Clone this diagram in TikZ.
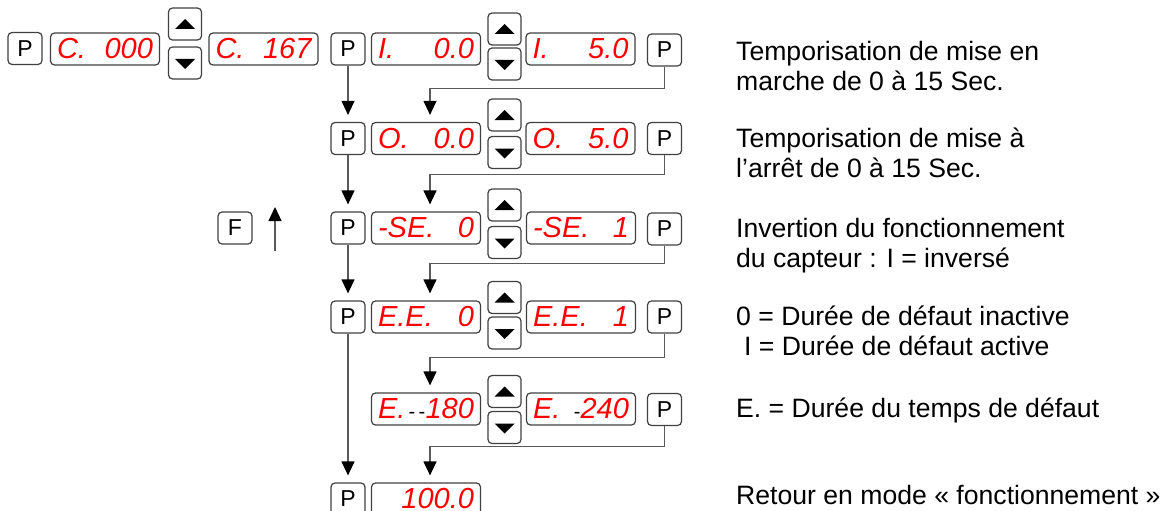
\documentclass[tikz,border=0pt]{standalone}
\usepackage{fontspec}
\setmainfont{Liberation Sans}
\usetikzlibrary{arrows.meta}
\definecolor{frame_gray}{RGB}{64,64,64}
\definecolor{wire_gray}{RGB}{90,90,90}
\definecolor{led_red}{RGB}{255,0,0}
% one line of the display: left part, gap, right part
\newcommand{\led}[2]{\hbox to 96pt{#1\hfill #2}}
% small black dashes in the E. display
\newcommand{\blk}[1]{\textcolor{black}{\fontsize{20}{20}\selectfont\upshape #1}}

\begin{document}
\begin{tikzpicture}[x=1pt,y=-1pt,>={Triangle[width=13pt,length=14pt,black]}]
    \tikzstyle{key}=[draw=frame_gray, line width=1.2pt, rounded corners=4pt, minimum width=34pt, minimum height=32pt, inner sep=0pt, font=\fontsize{23}{23}\selectfont]
    \tikzstyle{disp}=[draw=frame_gray, line width=1.2pt, rounded corners=4pt, minimum width=109pt, minimum height=32pt, inner xsep=6pt, inner ysep=0pt, text=led_red, font=\fontsize{29}{29}\selectfont\itshape]
    \tikzstyle{btn}=[draw=frame_gray, line width=1.2pt, rounded corners=4pt, minimum width=33pt, minimum height=32pt, inner sep=0pt]
    \tikzstyle{wire}=[draw=wire_gray, line width=1.2pt, ->, shorten >=7pt]
    \tikzstyle{note}=[anchor=base west, align=left, inner sep=0pt, font=\fontsize{26.6}{30}\selectfont]

    \useasboundingbox (0,0) rectangle (1164,511);

    % first line: C. setting
    \node[key]  (p0)  at (25,48.5)   {P};
    \node[disp] (d0a) at (105,49)    {\led{C.}{000}};
    \node[btn]  (up0) at (185,24)    {};
    \node[btn]  (dn0) at (185,63)    {};
    \node[disp] (d0b) at (263.5,49)  {\led{C.}{167}};

    % main column
    \node[key]  (p1)  at (348,49)    {P};
    \node[disp] (d1a) at (426,49)    {\led{I.}{0.0}};
    \node[btn]  (up1) at (504.5,29)  {};
    \node[btn]  (dn1) at (504.5,64)  {};
    \node[disp] (d1b) at (580.5,49)  {\led{I.}{5.0}};
    \node[key]  (q1)  at (664.5,50)  {P};

    \node[key]  (p2)  at (348,138.5) {P};
    \node[disp] (d2a) at (426,138.5) {\led{O.}{0.0}};
    \node[btn]  (up2) at (504.5,115) {};
    \node[btn]  (dn2) at (504.5,152.5) {};
    \node[disp] (d2b) at (580.5,138.5) {\led{O.}{5.0}};
    \node[key]  (q2)  at (664.5,138.5) {P};

    \node[key]  (f)   at (235,228)   {F};
    \node[key]  (p3)  at (348,228)   {P};
    \node[disp] (d3a) at (426,228)   {\led{-SE.}{0}};
    \node[btn]  (up3) at (504.5,205) {};
    \node[btn]  (dn3) at (504.5,242.5) {};
    \node[disp] (d3b) at (581,228)   {\led{-SE.}{1}};
    \node[key]  (q3)  at (664.5,229) {P};

    \node[key]  (p4)  at (348,317)   {P};
    \node[disp] (d4a) at (426,317)   {\led{E.E.}{0}};
    \node[btn]  (up4) at (504.5,297.5) {};
    \node[btn]  (dn4) at (504.5,333) {};
    \node[disp] (d4b) at (581,317)   {\led{E.E.}{1}};
    \node[key]  (q4)  at (664.5,317) {P};

    \node[disp] (d5a) at (426,409)   {\led{E.\blk{\,-\,-}}{180}};
    \node[btn]  (up5) at (504.5,391.5) {};
    \node[btn]  (dn5) at (504.5,427.5) {};
    \node[disp] (d5b) at (581,409)   {\led{E.}{\blk{-}240}};
    \node[key]  (q5)  at (664.5,409.5) {P};

    \node[key]  (p6)  at (348,499)   {P};
    \node[disp] (d6a) at (426,499)   {\led{}{100.0}};

    % arrow heads on the buttons
    \foreach \b in {up0,up1,up2,up3,up4,up5}
      \fill (\b.center) +(-10,5) -- +(10,5) -- +(0,-5) -- cycle;
    \foreach \b in {dn0,dn1,dn2,dn3,dn4,dn5}
      \fill (\b.center) +(-10,-4) -- +(10,-4) -- +(0,6) -- cycle;

    % P down the left
    \path
     (p1) edge[wire] (p2)
     (p2) edge[wire] (p3)
     (p3) edge[wire] (p4)
     (p4) edge[wire] (p6)
     ;
    % P on the right goes to the next setting
    \foreach \a/\b/\h in {q1/d2a/22, q2/d3a/19, q3/d4a/18, q4/d5a/24, q5/d6a/20}
      \draw[wire] (\a.south) -- ++(0,\h) -| ([xshift=4pt]\b.north);

    % F goes back up
    \coordinate (fa) at (275,251);
    \coordinate (fb) at (275,207);
    \draw[wire, shorten >=0pt] (fa) -- (fb);

    % notes (base is the last line)
    \node[note] (t1) at (736,90)  {Temporisation de mise en\\marche de 0 à 15 Sec.};
    \node[note] (t2) at (736,177) {Temporisation de mise à\\l’arrêt de 0 à 15 Sec.};
    \node[note] (t3) at (736,267) {Invertion du fonctionnement\\du capteur : I = inversé};
    \node[note] (t4) at (736,355) {0 = Durée de défaut inactive\\\hspace*{8pt}I = Durée de défaut active};
    \node[note] (t5) at (736,417) {E. = Durée du temps de défaut};
    \node[note] (t6) at (736,504) {Retour en mode « fonctionnement »};
  \end{tikzpicture}
\end{document}
